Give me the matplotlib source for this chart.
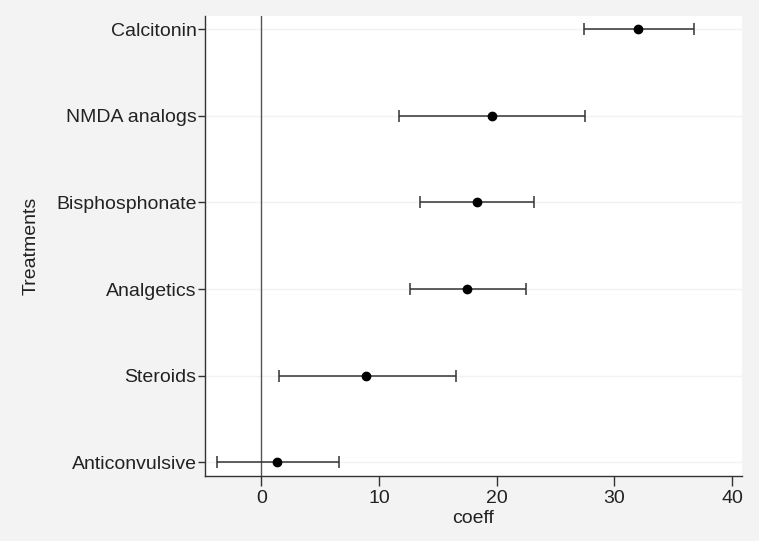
import matplotlib.pyplot as plt

plt.rcParams['font.family'] = ['Liberation Sans', 'DejaVu Sans']

# Data (bottom to top)
treatments = ["Anticonvulsive", "Steroids", "Analgetics", "Bisphosphonate", "NMDA analogs", "Calcitonin"]
coef = [1.3, 8.9, 17.5, 18.3, 19.6, 32.0]
ci_low = [-3.8, 1.5, 12.6, 13.5, 11.7, 27.4]
ci_high = [6.6, 16.5, 22.5, 23.2, 27.5, 36.8]

ypos = list(range(1, len(treatments) + 1))
err_lo = [c - l for c, l in zip(coef, ci_low)]
err_hi = [h - c for c, h in zip(coef, ci_high)]

fig = plt.figure(figsize=(7.59, 5.41), dpi=100, facecolor="#f3f3f3")
ax = fig.add_axes([0.270, 0.120, 0.707, 0.850])
ax.set_facecolor("white")

# light horizontal grid at each treatment
for y in ypos:
    ax.axhline(y, color="#f2f2f2", lw=1, zorder=0)

ax.axvline(0, color="#555555", lw=1, zorder=1)

ax.errorbar(coef, ypos, xerr=[err_lo, err_hi], fmt="o", color="black",
            ecolor="#333333", elinewidth=1.1, capsize=4.5, capthick=1.1,
            markersize=6, zorder=3)

ax.set_xlim(-4.8, 40.8)
ax.set_ylim(0.84, 6.15)
ax.set_xticks([0, 10, 20, 30, 40])
ax.set_yticks(ypos)
ax.set_yticklabels(treatments)

for s in ["top", "right"]:
    ax.spines[s].set_visible(False)
for s in ["left", "bottom"]:
    ax.spines[s].set_color("#333333")
    ax.spines[s].set_linewidth(1)

ax.tick_params(axis="y", length=5, width=1, color="#333333", labelsize=14, pad=1, labelcolor="#222222")
ax.tick_params(axis="x", length=7, width=1, color="#333333", labelsize=14, pad=3, labelcolor="#222222")

ax.set_xlabel("coeff", fontsize=14, color="#222222", labelpad=2)
ax.set_ylabel("Treatments", fontsize=14, color="#222222", labelpad=12)

plt.savefig("out.png", dpi=100, facecolor=fig.get_facecolor())
